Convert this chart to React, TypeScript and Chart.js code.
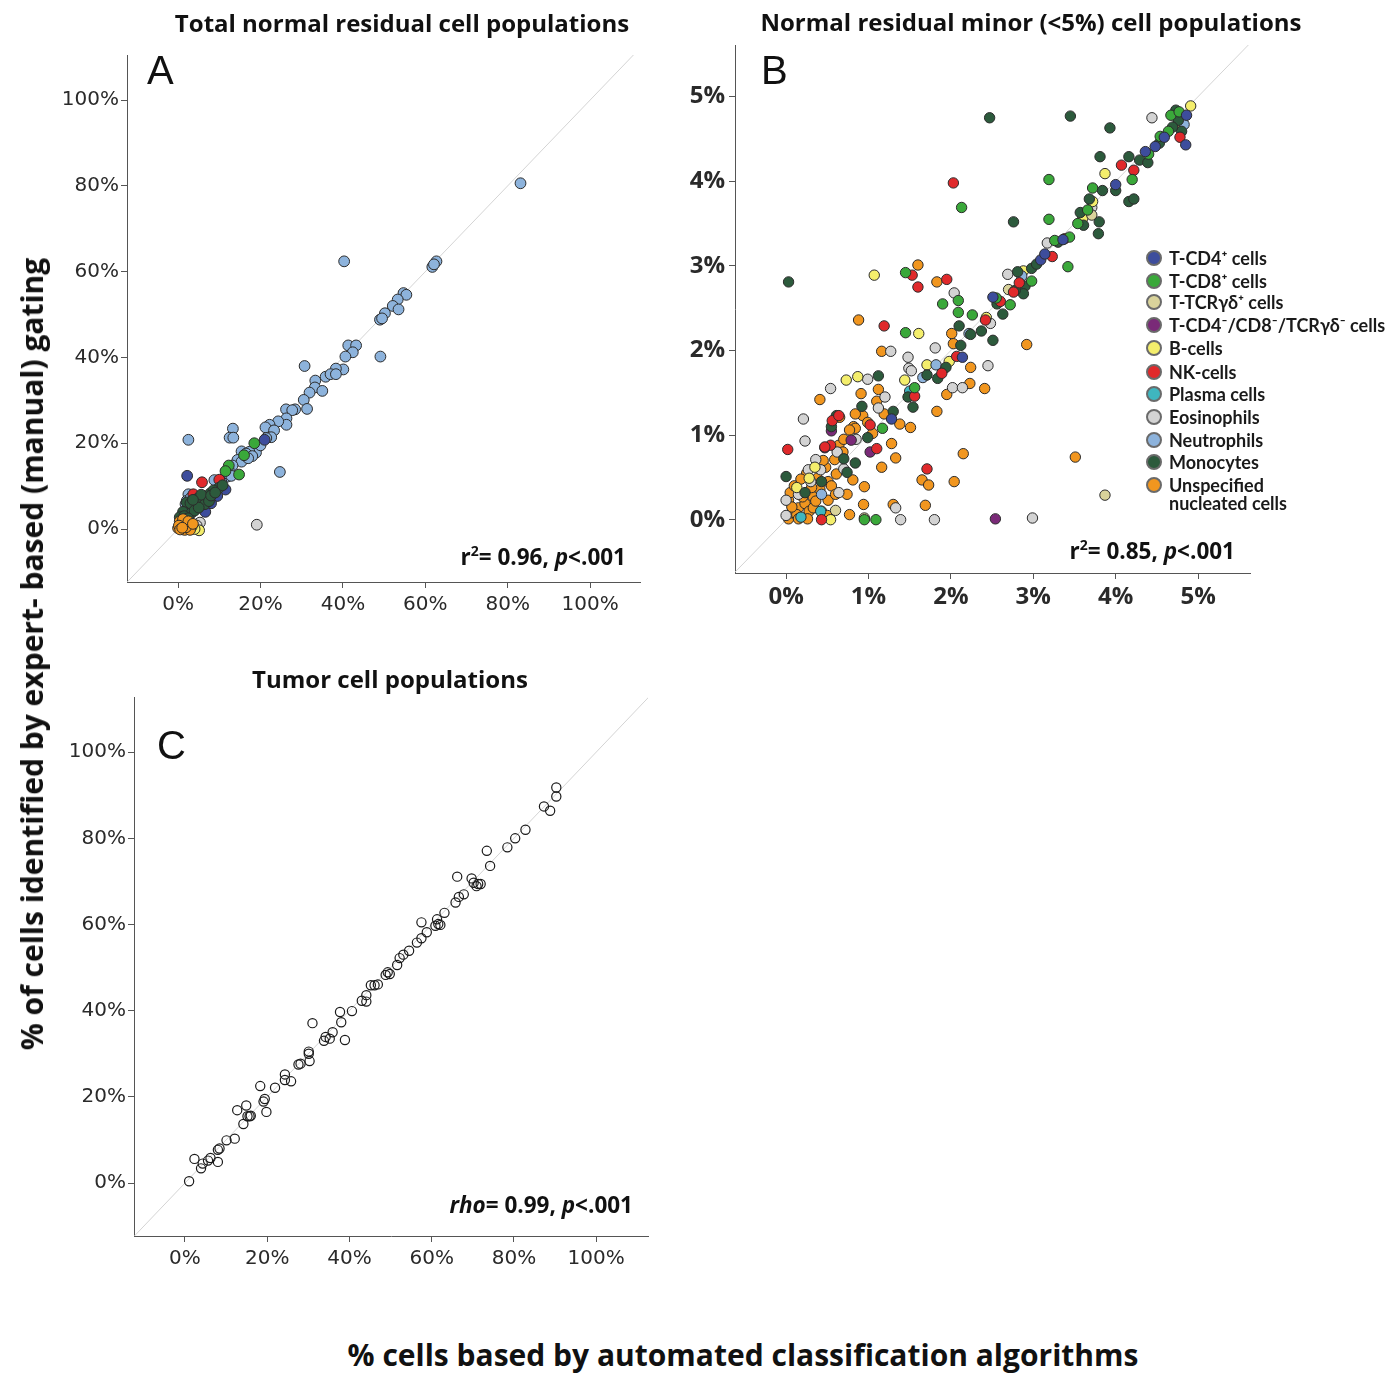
import React, { useEffect, useRef } from "react";
import { Chart, registerables } from "chart.js";
Chart.register(...registerables);

type P = [number, number];

// ---------- categories ----------
const CATEGORY_LABELS = [
  "T-CD4⁺ cells",
  "T-CD8⁺ cells",
  "T-TCRγδ⁺ cells",
  "T-CD4⁻/CD8⁻/TCRγδ⁻ cells",
  "B-cells",
  "NK-cells",
  "Plasma cells",
  "Eosinophils",
  "Neutrophils",
  "Monocytes",
  "Unspecified",
];
const CATEGORY_COLORS = [
  "#3d4d9c", "#3aa83a", "#d9d39b", "#7a2a78", "#f4ee6c", "#e0292b",
  "#3fb6bf", "#d3d3d3", "#8db3dc", "#2c5a3c", "#f1961f",
];

// ---------- Panel A (total populations, %) ----------
const aCD4: P[] = [[2.2, 12.4], [21.0, 20.8], [11.5, 9.2], [9.5, 7.7], [6.6, 4.0], [8.0, 6.0]];
const aCD8: P[] = [[18.5, 20.0], [12.3, 14.8], [14.8, 12.7], [11.5, 13.5], [16.0, 17.2], [2.5, 4.0]];
const aNK: P[] = [[5.8, 10.9], [3.7, 8.1], [10.0, 11.5]];
const aEos: P[] = [[19.1, 1.0], [5.3, 1.5], [4.5, 0.8]];
const aB: P[] = [[5.1, -0.3], [4.0, 0.0]];
const aNeut: P[] = [
  [83.1, 80.6], [40.3, 62.4], [61.7, 61.1], [62.7, 62.4], [62.1, 61.7],
  [54.7, 55.0], [55.4, 54.6], [53.3, 53.5], [52.1, 52.0], [53.5, 51.2], [50.2, 50.3], [49.0, 48.8], [49.5, 49.1],
  [49.1, 40.2], [41.3, 42.8], [43.2, 42.8], [42.4, 41.2], [40.6, 40.2], [40.1, 37.2],
  [30.7, 38.0], [38.3, 37.4], [35.8, 35.5], [37.0, 36.1], [38.3, 36.1], [33.3, 34.6], [33.2, 33.0], [31.9, 31.8], [35.0, 32.2], [30.5, 30.1], [31.3, 28.0],
  [26.2, 27.9], [28.4, 27.9], [27.7, 27.7], [26.3, 25.8], [26.3, 24.3], [24.3, 25.1], [22.2, 24.3], [21.2, 23.7], [23.3, 23.0], [22.6, 21.4], [21.4, 21.2],
  [13.3, 23.4], [12.5, 21.3], [13.4, 21.3], [2.5, 20.8], [24.7, 13.3],
  [19.3, 19.1], [18.9, 17.8], [17.3, 18.0], [15.4, 18.1], [16.5, 17.6], [14.4, 16.1], [15.4, 15.7], [13.2, 14.8], [12.3, 13.7], [11.9, 12.2], [8.8, 11.4], [12.9, 12.4], [20.0, 19.5], [18.0, 17.0], [17.0, 16.5], [10.5, 11.0],
  [2.5, 8.1], [2.1, 6.6], [3.0, 7.2], [1.8, 5.8],
];
const aMono: P[] = [
  [9.9, 9.6], [7.8, 8.3], [7.0, 7.1], [5.3, 6.2], [4.1, 5.3], [2.9, 4.9], [2.1, 6.2], [1.2, 4.0], [0.4, 2.75], [6.2, 7.5],
  [8.6, 9.0], [4.6, 7.0], [3.3, 3.8], [6.5, 5.8], [5.6, 8.0], [3.0, 6.0], [1.5, 3.0], [7.5, 6.5], [8.0, 7.8], [4.0, 4.3],
  [2.4, 2.5], [9.0, 8.5], [10.8, 10.2], [5.0, 5.0], [3.6, 6.8],
];
const aUnspec: P[] = [
  [0.0, 0.2], [0.8, 1.4], [2.1, 1.0], [3.3, 0.6], [0.4, 1.8], [1.6, -0.2], [2.9, -0.2], [1.2, 2.3], [0.2, 0.8],
  [1.9, 0.4], [2.5, 1.8], [0.5, -0.1], [3.6, 1.2], [1.0, 0.3],
];

// ---------- Panel B (minor populations, %) ----------
const bCD4: P[] = [[4.85, 4.43], [4.86, 4.78], [4.48, 4.41], [4.59, 4.52], [4.36, 4.35], [3.09, 3.07], [3.14, 3.14], [2.51, 2.63], [1.28, 1.19], [2.14, 1.92], [4.0, 3.96], [3.36, 3.31]];
const bCD8: P[] = [[3.19, 4.02], [2.13, 3.69], [3.19, 3.55], [3.42, 2.99], [3.72, 3.92], [3.54, 3.5], [4.67, 4.78], [4.64, 4.59], [4.4, 4.32], [4.2, 4.02], [4.77, 4.82], [1.45, 2.92], [1.9, 2.55], [2.09, 2.59], [2.09, 2.45], [2.26, 2.42], [1.45, 2.21], [3.44, 3.34], [2.98, 2.82], [2.72, 2.54], [1.09, 0.0], [0.95, 0.0], [1.56, 1.56], [1.17, 1.08], [3.26, 3.3], [2.55, 2.62], [3.66, 3.66], [4.54, 4.53]];
const bTCRgd: P[] = [[3.87, 0.29], [0.95, 0.02], [0.6, 0.11], [2.7, 2.72], [3.71, 3.6]];
const bDN: P[] = [[2.54, 0.01], [0.79, 0.94], [0.47, 0.85], [1.02, 0.8], [0.55, 1.05]];
const bB: P[] = [[1.07, 2.89], [1.61, 2.2], [3.87, 4.09], [3.6, 3.56], [4.91, 4.89], [4.76, 4.7], [0.73, 1.65], [0.87, 1.69], [1.44, 1.65], [1.71, 1.83], [0.54, 0.0], [2.43, 2.39], [2.88, 2.94], [0.13, 0.38], [0.28, 0.49], [1.98, 1.87], [3.72, 3.76], [0.35, 0.62]];
const bNK: P[] = [[2.03, 3.98], [1.53, 2.89], [1.6, 2.75], [1.95, 2.84], [1.19, 2.29], [0.02, 0.83], [1.71, 0.6], [0.43, 0.0], [0.54, 0.88], [0.56, 1.17], [1.1, 0.84], [4.07, 4.19], [4.22, 4.13], [4.78, 4.52], [3.38, 3.32], [3.23, 3.11], [2.76, 2.69], [2.42, 2.36], [2.07, 1.93], [1.89, 1.73], [1.56, 1.46], [0.47, 0.86], [0.64, 1.23], [1.02, 1.12], [2.83, 2.8], [2.6, 2.58]];
const bPlasma: P[] = [[0.18, 0.03], [1.5, 1.52], [0.42, 0.1]];
const bEos: P[] = [[4.44, 4.75], [3.71, 3.69], [3.17, 3.27], [2.69, 2.9], [2.04, 2.68], [2.48, 2.32], [1.81, 2.03], [1.27, 1.99], [1.48, 1.92], [1.49, 1.79], [1.52, 1.76], [2.45, 1.82], [2.02, 1.56], [2.14, 1.56], [0.99, 1.66], [0.54, 1.55], [0.21, 1.19], [0.23, 0.93], [0.36, 0.71], [0.42, 0.59], [0.27, 0.59], [0.64, 0.32], [1.33, 0.14], [1.39, 0.0], [1.8, 0.0], [2.99, 0.02], [0.0, 0.23], [0.62, 0.8], [0.85, 0.95], [1.12, 1.32], [0.3, 0.45], [0.7, 0.6], [0.0, 0.05], [1.2, 1.45], [0.15, 0.3]];
const bNeut: P[] = [[4.83, 4.67], [1.82, 1.83], [2.22, 2.2], [1.66, 1.68], [0.43, 0.3], [2.86, 2.88]];
const bMono: P[] = [[2.47, 4.75], [3.45, 4.77], [3.93, 4.63], [4.73, 4.84], [4.8, 4.59], [4.76, 4.72], [3.81, 4.29], [4.16, 4.29], [4.29, 4.25], [4.39, 4.22], [4.16, 3.76], [4.22, 3.79], [3.68, 3.79], [3.8, 3.52], [3.79, 3.38], [3.61, 3.48], [3.57, 3.63], [3.84, 3.89], [4.0, 3.89], [2.76, 3.52], [0.03, 2.81], [2.81, 2.93], [2.9, 2.76], [2.88, 2.67], [2.78, 2.71], [2.63, 2.43], [2.51, 2.12], [2.1, 2.29], [2.37, 2.23], [2.24, 2.19], [2.12, 2.06], [1.94, 1.8], [1.84, 1.67], [1.71, 1.71], [1.54, 1.33], [1.48, 1.45], [1.12, 1.7], [0.92, 1.34], [0.61, 1.23], [0.55, 1.1], [0.0, 0.51], [0.99, 0.97], [0.84, 0.67], [0.74, 0.56], [0.43, 0.45], [0.23, 0.32], [2.98, 2.97], [3.04, 3.02], [3.3, 3.28], [2.56, 2.55], [1.3, 1.28], [0.7, 0.72], [4.53, 4.45], [4.69, 4.64]];
const bUnspec: P[] = [[1.6, 3.01], [1.83, 2.81], [0.88, 2.36], [1.16, 1.99], [2.92, 2.07], [0.41, 1.42], [0.91, 1.49], [1.12, 1.54], [2.01, 2.2], [2.24, 1.8], [2.23, 1.61], [1.95, 1.48], [2.41, 1.55], [1.83, 1.28], [1.51, 1.09], [1.38, 1.13], [3.51, 0.74], [2.15, 0.78], [2.04, 0.45], [1.65, 0.47], [1.73, 0.41], [1.33, 0.73], [1.16, 0.62], [0.95, 0.39], [1.28, 0.9], [0.81, 0.47], [0.74, 0.3], [0.94, 0.18], [1.3, 0.18], [1.69, 0.17], [0.65, 1.21], [0.82, 1.1], [0.93, 1.23], [1.19, 1.25], [0.84, 1.25], [0.03, 0.01], [0.08, 0.08], [0.15, 0.14], [0.23, 0.19], [0.33, 0.27], [0.41, 0.36], [0.51, 0.45], [0.61, 0.54], [0.13, 0.06], [0.28, 0.1], [0.2, 0.27], [0.38, 0.49], [0.48, 0.62], [0.64, 0.88], [0.59, 0.71], [0.69, 0.8], [0.03, 0.23], [0.05, 0.32], [0.15, 0.01], [0.26, 0.01], [0.77, 0.06], [0.33, 0.14], [0.43, 0.1], [0.51, 0.23], [0.1, 0.4], [0.84, 1.08], [0.77, 1.06], [0.99, 1.15], [0.31, 0.38], [0.25, 0.55], [0.45, 0.7], [0.55, 0.4], [0.7, 0.95], [0.36, 0.22], [0.18, 0.48], [0.07, 0.15], [0.5, 0.05], [1.05, 1.02], [0.6, 0.3], [1.1, 1.4], [2.03, 2.08]];

// ---------- Panel C (tumor populations, %) ----------
const cTumor: P[] = [
  [1.0, 0.4], [2.3, 5.6], [3.9, 3.4], [4.3, 4.5], [5.6, 5.2], [6.2, 5.8], [8.0, 4.9], [8.0, 7.7], [8.4, 8.0], [10.1, 9.9],
  [12.1, 10.3], [12.7, 16.9], [14.2, 13.7], [14.9, 18.0], [15.2, 15.5], [15.7, 15.5], [16.0, 15.6], [18.3, 22.5], [19.1, 18.9], [19.4, 19.5],
  [19.8, 16.5], [21.9, 22.1], [24.3, 25.2], [24.3, 23.9], [25.8, 23.6], [27.6, 27.5], [28.1, 27.7], [30.1, 30.0], [30.1, 30.5], [30.3, 28.3],
  [31.0, 37.1], [33.8, 33.0], [34.2, 33.9], [35.2, 33.5], [35.9, 35.0], [37.7, 39.7], [38.0, 37.3], [38.9, 33.2], [40.6, 39.9], [43.0, 42.3],
  [44.1, 43.6], [44.1, 42.1], [45.2, 45.9], [46.1, 45.9], [46.9, 46.1], [48.8, 48.3], [49.3, 48.9], [49.8, 48.5], [51.6, 50.6], [52.2, 52.2],
  [53.1, 53.0], [54.5, 53.9], [56.4, 55.8], [57.5, 60.5], [57.5, 56.8], [58.8, 58.2], [60.9, 59.7], [61.3, 61.2], [61.6, 60.1], [62.1, 59.9],
  [63.1, 62.7], [65.8, 65.1], [66.2, 71.1], [66.6, 66.4], [67.8, 67.0], [69.7, 70.7], [70.2, 69.7], [70.9, 68.9], [71.3, 69.4], [71.9, 69.4],
  [73.4, 77.1], [74.2, 73.6], [78.4, 77.9], [80.3, 80.0], [82.8, 82.0], [87.3, 87.4], [88.8, 86.4], [90.3, 89.7], [90.3, 91.8],
];

const TICKS_PCT = [0, 20, 40, 60, 80, 100];
const TICKS_MINOR = [0, 1, 2, 3, 4, 5];

const PANEL_A_SERIES: { data: P[]; cat: number }[] = [
  { data: aNeut, cat: 8 }, { data: aCD8, cat: 1 }, { data: aCD4, cat: 0 }, { data: aNK, cat: 5 },
  { data: aMono, cat: 9 }, { data: aEos, cat: 7 }, { data: aB, cat: 4 }, { data: aUnspec, cat: 10 },
];
const PANEL_B_SERIES: { data: P[]; cat: number }[] = [
  { data: bUnspec, cat: 10 }, { data: bEos, cat: 7 }, { data: bB, cat: 4 }, { data: bTCRgd, cat: 2 },
  { data: bDN, cat: 3 }, { data: bPlasma, cat: 6 }, { data: bNeut, cat: 8 }, { data: bMono, cat: 9 },
  { data: bNK, cat: 5 }, { data: bCD8, cat: 1 }, { data: bCD4, cat: 0 },
];

type PanelProps = {
  left: number; top: number; width: number; height: number;
  yw: number; xh: number; padTop: number; padRight: number;
  xMin: number; xMax: number; yMin: number; yMax: number;
  ticks: number[]; font: { family: string; size: number; weight?: string };
  datasets: any[]; tickLen: number; xPad: number; yPad: number;
};

function Panel(p: PanelProps) {
  const ref = useRef<HTMLCanvasElement | null>(null);
  useEffect(() => {
    if (!ref.current) return;
    const lo = Math.min(p.xMin, p.yMin);
    const hi = Math.max(p.xMax, p.yMax);
    const axisCommon = (min: number, max: number, isY: boolean) => ({
      type: "linear",
      min, max,
      afterBuildTicks: (scale: any) => { scale.ticks = p.ticks.map((v) => ({ value: v })); },
      afterFit: (scale: any) => { if (isY) scale.width = p.yw; else scale.height = p.xh; },
      ticks: {
        color: "#2a2a2a",
        font: p.font,
        padding: isY ? p.yPad : p.xPad,
        callback: (v: any) => v + "%",
      },
      grid: { display: true, drawOnChartArea: false, drawTicks: true, tickLength: p.tickLen, color: "#555", lineWidth: 1 },
      border: { display: true, color: "#555", width: 1 },
    });
    const chart = new Chart(ref.current, {
      type: "scatter",
      data: {
        datasets: [
          {
            type: "line",
            data: [{ x: lo, y: lo }, { x: hi, y: hi }],
            borderColor: "#d4d4d4",
            borderWidth: 1,
            pointRadius: 0,
            order: 100,
          } as any,
          ...p.datasets,
        ],
      },
      options: {
        responsive: false,
        animation: false,
        layout: { autoPadding: false, padding: { left: 0, top: p.padTop, right: p.padRight, bottom: 0 } } as any,
        plugins: { legend: { display: false }, tooltip: { enabled: false }, title: { display: false } },
        scales: {
          x: axisCommon(p.xMin, p.xMax, false) as any,
          y: axisCommon(p.yMin, p.yMax, true) as any,
        },
      },
    });
    return () => chart.destroy();
  }, []);
  return (
    <canvas
      ref={ref}
      width={p.width}
      height={p.height}
      style={{ position: "absolute", left: p.left, top: p.top, width: p.width, height: p.height }}
    />
  );
}

function coloredDatasets(series: { data: P[]; cat: number }[], radius: number) {
  return series.map((s, i) => ({
    label: CATEGORY_LABELS[s.cat],
    data: s.data.map(([x, y]) => ({ x, y })),
    backgroundColor: CATEGORY_COLORS[s.cat],
    borderColor: "#2b2b2b",
    borderWidth: 1,
    pointRadius: radius,
    order: series.length - i,
  }));
}

const LATO = "Lato, 'Open Sans', sans-serif";
const OPEN = "'Open Sans', Lato, sans-serif";

function Txt(props: { x: number; y: number; size: number; children: any; anchor?: "center" | "right" | "left"; weight?: number; rotate?: boolean; family?: string; color?: string }) {
  const a = props.anchor || "center";
  const tx = a === "center" ? "-50%" : a === "right" ? "-100%" : "0";
  return (
    <div
      style={{
        position: "absolute", left: props.x, top: props.y,
        transform: `translate(${tx}, -50%)${props.rotate ? " rotate(-90deg)" : ""}`,
        transformOrigin: props.rotate ? "50% 50%" : undefined,
        fontFamily: props.family || OPEN, fontSize: props.size, fontWeight: props.weight ?? 700,
        whiteSpace: "nowrap", color: props.color || "#111", lineHeight: 1,
      }}
    >
      {props.children}
    </div>
  );
}

const LEGEND_ROWS = [258, 281, 302, 325, 348, 372, 394, 417, 440, 462, 485];

export default function App() {
  const tickFontAC = { family: "'DejaVu Sans', sans-serif", size: 20 };
  const tickFontB = { family: OPEN, size: 24, weight: "bold" };
  const cData = [{
    label: "Tumor",
    data: cTumor.map(([x, y]) => ({ x, y })),
    backgroundColor: "rgba(0,0,0,0)",
    borderColor: "#1a1a1a",
    borderWidth: 1.2,
    pointRadius: 4.6,
    order: 1,
  }];
  return (
    <div style={{ position: "absolute", left: 0, top: 0, width: 1400, height: 1373, background: "#fff", overflow: "hidden" }}>
      <Panel left={0} top={0} width={660} height={640} yw={127} xh={58} padTop={55} padRight={20}
        xMin={-12.4} xMax={112.1} yMin={-12.35} yMax={110.5} ticks={TICKS_PCT} font={tickFontAC}
        datasets={coloredDatasets(PANEL_A_SERIES, 5.4)} tickLen={6} xPad={5} yPad={2} />
      <Panel left={660} top={0} width={740} height={640} yw={75} xh={67} padTop={45} padRight={150}
        xMin={-0.62} xMax={5.63} yMin={-0.63} yMax={5.61} ticks={TICKS_MINOR} font={tickFontB}
        datasets={coloredDatasets(PANEL_B_SERIES, 5.2)} tickLen={6} xPad={4} yPad={4} />
      <Panel left={0} top={650} width={680} height={640} yw={134} xh={54} padTop={47} padRight={32}
        xMin={-12.4} xMax={112.6} yMin={-12.3} yMax={112.8} ticks={TICKS_PCT} font={tickFontAC}
        datasets={cData} tickLen={6} xPad={5} yPad={2} />

      <Txt x={402} y={23} size={24}>Total normal residual cell populations</Txt>
      <Txt x={1031} y={22} size={24}>Normal residual minor (&lt;5%) cell populations</Txt>
      <Txt x={390} y={679} size={24}>Tumor cell populations</Txt>

      <Txt x={147} y={70} size={40} anchor="left" weight={400} family="'Liberation Sans', Arial, sans-serif">A</Txt>
      <Txt x={761} y={70} size={40} anchor="left" weight={400} family="'Liberation Sans', Arial, sans-serif">B</Txt>
      <Txt x={157} y={745} size={40} anchor="left" weight={400} family="'Liberation Sans', Arial, sans-serif">C</Txt>

      <Txt x={626} y={556} size={22.5} anchor="right">r<sup style={{ fontSize: 14 }}>2</sup>= 0.96, <i>p</i>&lt;.001</Txt>
      <Txt x={1235} y={550} size={22.5} anchor="right">r<sup style={{ fontSize: 14 }}>2</sup>= 0.85, <i>p</i>&lt;.001</Txt>
      <Txt x={633} y={1205} size={22.5} anchor="right"><i>rho</i>= 0.99, <i>p</i>&lt;.001</Txt>

      {CATEGORY_LABELS.map((lab, i) => (
        <React.Fragment key={lab}>
          <div style={{
            position: "absolute", left: 1154 - 8, top: LEGEND_ROWS[i] - 8, width: 12, height: 12,
            borderRadius: "50%", background: CATEGORY_COLORS[i], border: "2px solid #6a6a6a",
          }} />
          <Txt x={1169} y={LEGEND_ROWS[i]} size={18} anchor="left" family={LATO} color="#1a1a1a">{lab}</Txt>
        </React.Fragment>
      ))}
      <Txt x={1169} y={503} size={18} anchor="left" family={LATO} color="#1a1a1a">nucleated cells</Txt>

      <Txt x={32} y={654} size={30} rotate>% of cells identified by expert- based (manual) gating</Txt>
      <Txt x={743} y={1355} size={30}>% cells based by automated classification algorithms</Txt>
    </div>
  );
}
